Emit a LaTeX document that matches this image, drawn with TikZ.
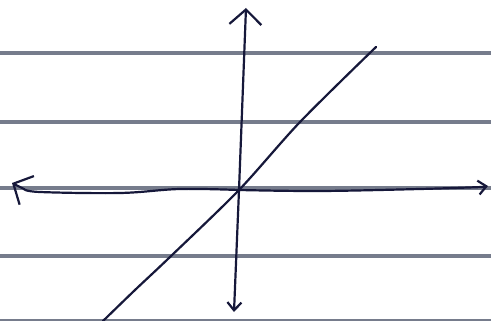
\documentclass[tikz,border=0pt]{standalone}
\usetikzlibrary{arrows.meta}
\definecolor{linie}{RGB}{118,124,140}
\definecolor{tinte}{RGB}{22,24,58}
\tikzset{
  heftlinie/.style={linie,line width=3.6pt},
  stift/.style={tinte,line width=2.2pt,line cap=round,line join=round},
  spitze/.style={-{Straight Barb[length=15pt,width=32pt,line width=2.2pt]}},
  kleinspitze/.style={-{Straight Barb[length=8pt,width=14pt,line width=2.2pt]}}
}
\begin{document}
\begin{tikzpicture}[x=1pt,y=-1pt]
%
% Koordinatenkreuz auf liniertem Papier
%
\useasboundingbox (0,0) rectangle (491,321);
\fill[white] (0,0) rectangle (491,321);
% Heftlinien
\foreach \y in {53,122,188,256,321}
  \draw[heftlinie] (0,\y) -- (491,\y);
% Ursprung
\coordinate (O) at (239,190);
% y-Achse
\coordinate (yoben) at (246,8);
\coordinate (yunten) at (234,312);
\draw[stift,spitze] (O) -- (yoben);
\draw[stift,kleinspitze] (O) -- (yunten);
% x-Achse (leicht gewellt)
\coordinate (xlinks) at (12,183);
\coordinate (xrechts) at (488,186);
\draw[stift,spitze] plot[smooth,tension=0.6] coordinates
  {(O) (180,189) (120,193) (40,192) (24,189)} -- (xlinks);
\draw[stift,kleinspitze] plot[smooth,tension=0.6] coordinates
  {(O) (320,191) (420,189) (482,187)} -- (xrechts);
% Gerade durch den Ursprung
\draw[stift] plot[smooth,tension=0.5] coordinates
  {(376,47) (300,122) (O) (170,257) (135,290) (103,321)};
\end{tikzpicture}
\end{document}
